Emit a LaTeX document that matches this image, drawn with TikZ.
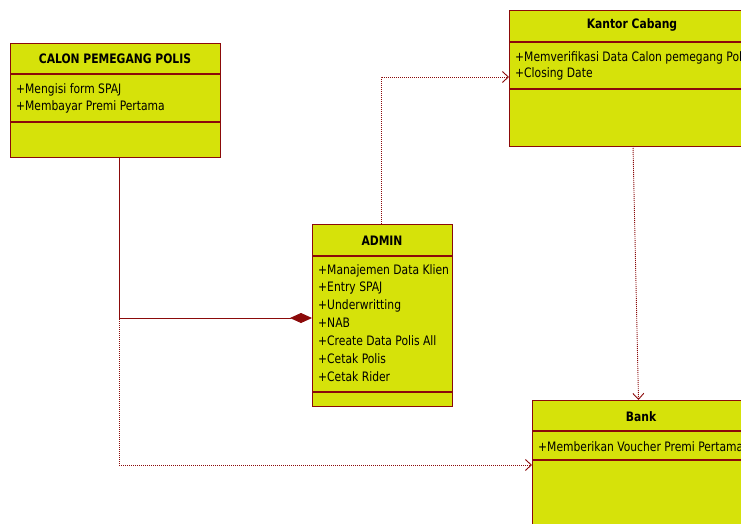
\documentclass[tikz,border=0pt]{standalone}
\usepackage{fontspec}
\setmainfont{DejaVu Sans Condensed}[FakeStretch=0.92]
\usetikzlibrary{arrows.meta,calc}
\definecolor{classfill}{HTML}{D6E20A}
\definecolor{classline}{HTML}{8B0A0A}
\begin{document}
\begin{tikzpicture}[x=1pt,y=-1pt,
  classbox/.style={draw=classline,fill=classfill,line width=1.3pt,rectangle,inner sep=0pt,anchor=north west},
  divider/.style={draw=classline,line width=1.3pt},
  classtitle/.style={font=\fontsize{13}{15}\selectfont\bfseries,inner sep=0pt,anchor=base},
  classop/.style={font=\fontsize{13}{15}\selectfont,inner sep=0pt,anchor=base west},
  depline/.style={draw=classline,line width=0.9pt,dash pattern=on 1pt off 1pt,
    -{Straight Barb[length=6pt,width=11pt,line width=0.9pt]}},
  compline/.style={draw=classline,line width=0.9pt,
    -{Diamond[length=22pt,width=10pt,fill=classline]}}
]
\useasboundingbox (0,0) rectangle (741,524);
\clip (0,0) rectangle (741,524);

% class boxes with their compartment dividers
\node (calon) [classbox,minimum width=210pt,minimum height=114pt] at (10,43) {};
\draw[divider] (calon.west |- 0,74) -- (calon.east |- 0,74);
\draw[divider] (calon.west |- 0,122) -- (calon.east |- 0,122);

\node (kantor) [classbox,minimum width=247pt,minimum height=136pt] at (509,10) {};
\draw[divider] (kantor.west |- 0,42) -- (kantor.east |- 0,42);
\draw[divider] (kantor.west |- 0,89) -- (kantor.east |- 0,89);

\node (admin) [classbox,minimum width=140pt,minimum height=182pt] at (312,224) {};
\draw[divider] (admin.west |- 0,256) -- (admin.east |- 0,256);
\draw[divider] (admin.west |- 0,392) -- (admin.east |- 0,392);

\node (bank) [classbox,minimum width=218pt,minimum height=160pt] at (532,400) {};
\draw[divider] (bank.west |- 0,431) -- (bank.east |- 0,431);
\draw[divider] (bank.west |- 0,460) -- (bank.east |- 0,460);

% class names
\node[classtitle] (calon-title) at (115,64) {CALON PEMEGANG POLIS};
\node[classtitle] (kantor-title) at (632,29) {Kantor Cabang};
\node[classtitle] (admin-title) at (382,245) {ADMIN};
\node[classtitle] (bank-title) at (641,421) {Bank};

% operations
\node[classop] (calon-op1) at (16,94) {+Mengisi form SPAJ};
\node[classop] (calon-op2) at (16,111) {+Membayar Premi Pertama};

\node[classop] (kantor-op1) at (515,62) {+Memverifikasi Data Calon pemegang Polis};
\node[classop] (kantor-op2) at (515,78) {+Closing Date};

\foreach \txt [count=\i] in {Manajemen Data Klien,Entry SPAJ,Underwritting,NAB,
  Create Data Polis All,Cetak Polis,Cetak Rider}
  \node[classop] (admin-op\i) at (318,{274+17.9*(\i-1)}) {+\txt};

\node[classop] (bank-op1) at (538,451) {+Memberikan Voucher Premi Pertama};

% connectors
\coordinate (calon-foot) at (119,157);
\coordinate (admin-in) at (admin.west |- 0,318);
\draw[compline] (calon-foot) |- (admin-in);
\coordinate (bank-in) at (bank.west |- 0,465);
\draw[depline] (calon-foot) |- (bank-in);
\coordinate (admin-top) at (381,224);
\coordinate (kantor-in) at (kantor.west |- 0,77);
\draw[depline] (admin-top) |- (kantor-in);
\coordinate (kantor-foot) at (633,146);
\coordinate (bank-top) at (638.5,400);
\draw[depline] (kantor-foot) -- (bank-top);
\end{tikzpicture}
\end{document}
